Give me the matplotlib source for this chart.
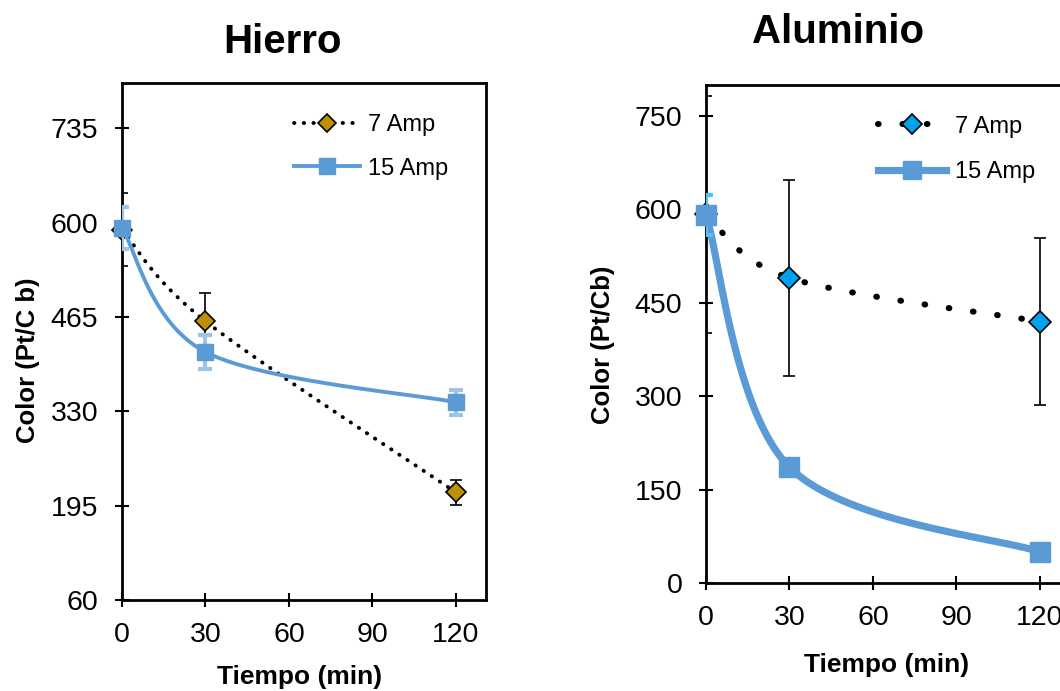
import numpy as np
import matplotlib
matplotlib.use("Agg")
import matplotlib.pyplot as plt

plt.rcParams['font.family'] = ['Liberation Sans', 'DejaVu Sans']

# tiempos de muestreo (min)
tiempo = [0, 30, 120]

# Hierro
fe_7 = [590, 459, 214]
fe_7_err = [52, 40, 18]
fe_15 = [592, 415, 343]
fe_15_err = [30, 24, 18]

# Aluminio
al_7 = [592, 490, 420]
al_7_err = [190, 157, 134]
al_15 = [591, 186, 50]
al_15_err = [32, 0, 0]

labels = ['7 Amp', '15 Amp']


def suavizar(ax, x, y, n=60):
    # curva suavizada tipo Excel (bezier / catmull-rom en coordenadas de pantalla)
    p = ax.transData.transform(np.column_stack([x, y]))
    segs = []
    t = np.linspace(0, 1, n)[:, None]
    for i in range(len(p) - 1):
        p0 = p[i - 1] if i > 0 else p[i]
        p1 = p[i]
        p2 = p[i + 1]
        p3 = p[i + 2] if i + 2 < len(p) else p[i + 1]
        c1 = p1 + (p2 - p0) / 6
        c2 = p2 - (p3 - p1) / 6
        segs.append((1 - t)**3 * p1 + 3 * (1 - t)**2 * t * c1
                    + 3 * (1 - t) * t**2 * c2 + t**3 * p2)
    q = ax.transData.inverted().transform(np.vstack(segs))
    return q[:, 0], q[:, 1]


def panel(ax, y7, e7, y15, e15, c7, cerr15, ylim, yticks, lw7, dots7, lw15,
          ms7, ms15, ylabel):
    ax.set_xlim(0, 130.8)
    ax.set_ylim(*ylim)
    ax.set_xticks([0, 30, 60, 90, 120])
    ax.set_yticks(yticks)
    for s in ax.spines.values():
        s.set_linewidth(2)
    ax.tick_params(direction='inout', length=10, width=1.5, labelsize=20.5)
    ax.tick_params(axis='y', pad=12)
    ax.tick_params(axis='x', pad=11)

    # 7 Amp
    xs, ys = suavizar(ax, tiempo, y7)
    ax.plot(xs, ys, color='black', lw=lw7, linestyle=(0, dots7),
            dash_capstyle='round', zorder=3)
    ax.errorbar(tiempo, y7, yerr=e7, fmt='none', ecolor='black',
                elinewidth=1.2, capsize=4, capthick=1.2, zorder=3)
    ax.plot(tiempo, y7, linestyle='none', marker='D', ms=ms7,
            mfc=c7, mec='black', mew=1.2, zorder=4, clip_on=False)

    # 15 Amp
    xs, ys = suavizar(ax, tiempo, y15)
    ax.plot(xs, ys, color='#5B9BD5', lw=lw15, solid_capstyle='round', zorder=5)
    ax.errorbar(tiempo, y15, yerr=e15, fmt='none', ecolor=cerr15,
                elinewidth=3, capsize=5, capthick=3, zorder=5)
    ax.plot(tiempo, y15, linestyle='none', marker='s', ms=ms15,
            mfc='#5B9BD5', mec='#5B9BD5', zorder=6, clip_on=False)

    # leyenda
    h7, = ax.plot([], [], color='black', lw=lw7, linestyle=(0, dots7),
                  dash_capstyle='round', marker='D', ms=ms7 * 0.9,
                  mfc=c7, mec='black', mew=1.2)
    h15, = ax.plot([], [], color='#5B9BD5', lw=lw15, marker='s',
                   ms=ms15 * 0.95, mfc='#5B9BD5', mec='#5B9BD5')
    ax.set_ylabel(ylabel, fontsize=18.5, fontweight='bold')
    ax.set_xlabel('Tiempo (min)', fontsize=19, fontweight='bold')
    return h7, h15


fig = plt.figure(figsize=(10.6, 6.91), dpi=100)

W, H = 1060, 691
ax1 = fig.add_axes([122 / W, 1 - 600 / H, 364 / W, 517 / H])
ax2 = fig.add_axes([706 / W, 1 - 583 / H, 364 / W, 498 / H])

h = panel(ax1, fe_7, fe_7_err, fe_15, fe_15_err, '#BF9000', '#9DC3E6',
          (60, 800), [60, 195, 330, 465, 600, 735], 2.8, (0.1, 2.4), 2.8,
          10.5, 11.5, 'Color (Pt/C b)')
ax1.legend(h, labels, loc='upper left', bbox_to_anchor=(0.44, 0.962),
           frameon=False, fontsize=17, handlelength=2.8, handletextpad=0.35,
           labelspacing=0.9, borderpad=0)

h = panel(ax2, al_7, al_7_err, al_15, al_15_err, '#00A2F0', '#4FC3F7',
          (0, 800), [0, 150, 300, 450, 600, 750], 4.4, (0.1, 3.9), 5.2,
          11.5, 14, 'Color (Pt/Cb)')
ax2.legend(h, labels, loc='upper left', bbox_to_anchor=(0.44, 0.962),
           frameon=False, fontsize=17, handlelength=2.9, handletextpad=0.35,
           labelspacing=1.0, borderpad=0)

# posiciones de etiquetas
ax1.yaxis.set_label_coords(-0.258, 0.464)
ax2.yaxis.set_label_coords(-0.283, 0.478)
ax1.yaxis.label.set_va('center')
ax2.yaxis.label.set_va('center')
ax1.xaxis.set_label_coords(0.489, -0.148)
ax2.xaxis.set_label_coords(0.497, -0.165)
ax1.xaxis.label.set_va('center')
ax2.xaxis.label.set_va('center')

fig.text(283 / W, 1 - 42 / H, 'Hierro', fontsize=29, fontweight='bold',
         ha='center', va='center')
fig.text(838 / W, 1 - 32 / H, 'Aluminio', fontsize=29, fontweight='bold',
         ha='center', va='center')

fig.savefig('out.png', dpi=100)
